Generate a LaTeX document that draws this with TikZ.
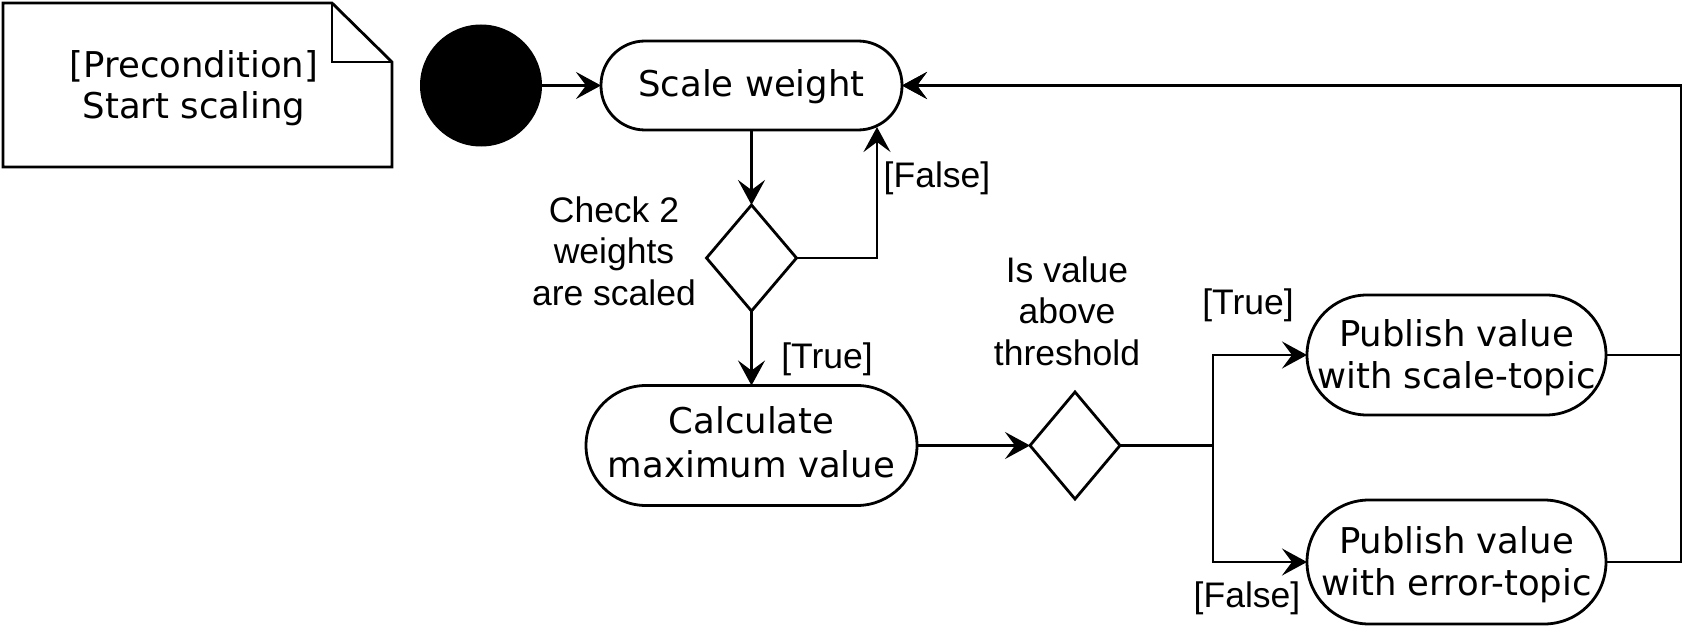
\documentclass[tikz,border=0pt]{standalone}
\usepackage{fontspec}
\setmainfont{DejaVu Sans}
\newfontfamily\labfont{Liberation Sans}
\usetikzlibrary{shapes.geometric,arrows.meta}
\newcommand\shiftdown[2]{\raisebox{-#1}[\height][\depth]{\begin{tabular}{@{}c@{}}#2\end{tabular}}}
\begin{document}
\begin{tikzpicture}[x=0.5pt,y=-0.5pt,line width=1.4pt,
  every node/.style={inner sep=0pt,outer sep=0pt},
  nodetext/.style={font=\fontsize{17.75pt}{21pt}\selectfont,align=center},
  labtext/.style={font=\labfont\fontsize{17.75pt}{20.75pt}\selectfont,align=center},
  act/.style={draw,nodetext,rounded corners=#1},
  dec/.style={draw,diamond,minimum width=45pt,minimum height=53pt},
  arr/.style={-{Stealth[length=12.5pt,width=13.5pt,inset=5pt]}}]
\useasboundingbox (0,0) rectangle (1707,642);
% note
\draw[line join=miter] (3,3) -- (332,3) -- (392,62) -- (392,167) -- (3,167) -- cycle;
\draw[line join=miter] (332,3) -- (332,62) -- (392,62);
\node[nodetext,font=\fontsize{17.75pt}{20.6pt}\selectfont] (note) at (194,88) {\shiftdown{0.8pt}{[Precondition]\\Start scaling}};
% nodes
\node[circle,fill=black,minimum size=61pt] (start) at (481,85.5) {};
\node[act=22pt,minimum width=150.5pt,minimum height=44.5pt] (sw) at (751.5,85.5) {\shiftdown{1.1pt}{Scale weight}};
\node[dec] (d1) at (751.5,258) {};
\node[act=30pt,minimum width=165.5pt,minimum height=60pt,font=\fontsize{17.75pt}{22pt}\selectfont] (calc) at (751.5,445.5) {\shiftdown{0.5pt}{Calculate\\maximum value}};
\node[dec,minimum height=53.5pt] (d2) at (1075,445.5) {};
\node[act=30pt,minimum width=149.5pt,minimum height=60pt,font=\fontsize{17.75pt}{21pt}\selectfont] (pub1) at (1456.5,355) {\shiftdown{2.2pt}{Publish value\\with scale-topic}};
\node[act=31pt,minimum width=149.5pt,minimum height=62pt,font=\fontsize{17.75pt}{21pt}\selectfont] (pub2) at (1456.5,562) {\shiftdown{2.2pt}{Publish value\\with error-topic}};
\coordinate (fIn) at (877,127);
% labels
\node[labtext] (lcheck) at (614,251) {Check 2\\weights\\are scaled};
\node[labtext] (lfalse1) at (937,178) {[False]};
\node[labtext] (ltrue1) at (827,359) {[True]};
\node[labtext] (lthr) at (1067,311) {Is value\\above\\threshold};
\node[labtext] (ltrue2) at (1248,305) {[True]};
\node[labtext] (lfalse2) at (1247,598) {[False]};
% connectors
\draw[arr] (start) -- (sw);
\draw[arr] (sw.south) -- (d1.north);
\draw[arr] (d1.east) -| (fIn);
\draw[arr] (d1.south) -- (calc.north);
\draw[arr] (calc.east) -- (d2.west);
\draw[arr] (d2.east) -- ++(93,0) |- (pub1.west);
\draw[arr] (d2.east) -- ++(93,0) |- (pub2.west);
\draw[arr] (pub1.east) -- ++(75,0) |- (sw.east);
\draw[arr] (pub2.east) -- ++(75,0) |- (sw.east);
\end{tikzpicture}
\end{document}
